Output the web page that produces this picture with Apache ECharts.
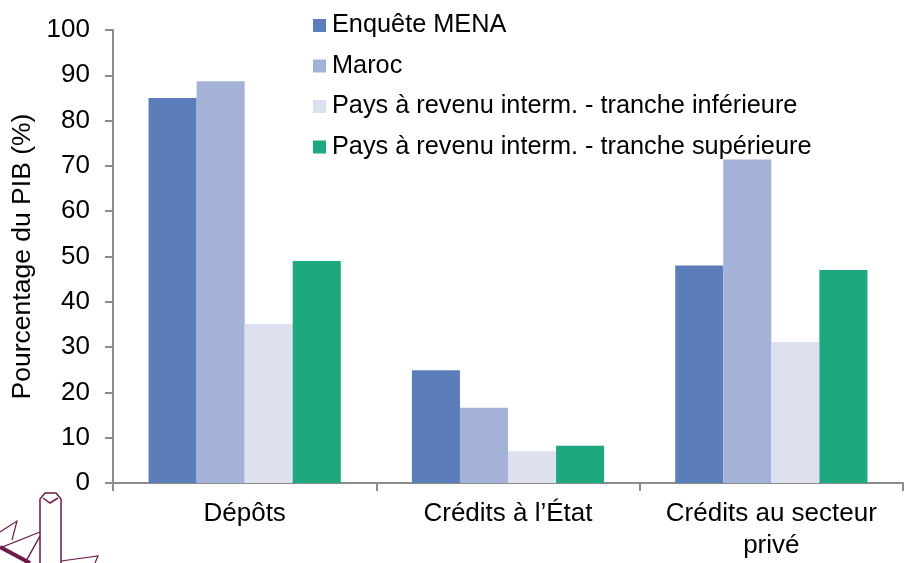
<!DOCTYPE html>
<html>
<head>
<meta charset="utf-8">
<script src="https://cdn.jsdelivr.net/npm/echarts@6/dist/echarts.min.js"></script>
<style>
html,body{margin:0;padding:0;background:#fff;}
#chart{width:904px;height:563px;}
</style>
</head>
<body>
<div id="chart"></div>
<script>
const categories = ['Dépôts', 'Crédits à l’État', 'Crédits au secteur\nprivé'];
const seriesNames = ['Enquête MENA', 'Maroc', 'Pays à revenu interm. - tranche inférieure', 'Pays à revenu interm. - tranche supérieure'];
const enqueteMena = [85, 24.9, 48];
const maroc = [88.7, 16.6, 71.4];
const trancheInf = [35.1, 7.0, 31.1];
const trancheSup = [49.0, 8.2, 47.0];
const yTicks = { min: 0, max: 100, interval: 10 };
const colors = ['#5B7DB9', '#A4B2D7', '#DCE0EF', '#1DA880'];

const font = '"Liberation Sans", Arial, sans-serif';
const chart = echarts.init(document.getElementById('chart'), null, { renderer: 'canvas' });
const dataSets = [enqueteMena, maroc, trancheInf, trancheSup];
const logoStroke = '#6b1d4a';

chart.setOption({
  animation: false,
  backgroundColor: '#ffffff',
  textStyle: { fontFamily: font },
  grid: { left: 113, right: 1, top: 30, bottom: 80, containLabel: false },
  legend: {
    orient: 'vertical',
    left: 313,
    top: 13,
    padding: 0,
    itemWidth: 13,
    itemHeight: 13,
    itemGap: 15.5,
    icon: 'rect',
    textStyle: { fontFamily: font, fontSize: 25.3, color: '#000', lineHeight: 25, padding: [0, 0, 0, 1] },
    data: seriesNames
  },
  xAxis: {
    type: 'category',
    data: categories,
    axisLine: { lineStyle: { color: '#8c8c8c', width: 2 } },
    axisTick: { show: true, length: 8, lineStyle: { color: '#8c8c8c', width: 2 } },
    axisLabel: { fontFamily: font, fontSize: 26, color: '#000', margin: 15, lineHeight: 32, interval: 0 }
  },
  yAxis: {
    type: 'value',
    min: yTicks.min,
    max: yTicks.max,
    interval: yTicks.interval,
    name: 'Pourcentage du PIB (%)',
    nameLocation: 'middle',
    nameGap: 76,
    nameRotate: 90,
    nameTextStyle: { fontFamily: font, fontSize: 26.5, color: '#000' },
    splitLine: { show: false },
    axisLine: { show: true, lineStyle: { color: '#8c8c8c', width: 2 } },
    axisTick: { show: true, length: 8, lineStyle: { color: '#8c8c8c', width: 2 } },
    axisLabel: { fontFamily: font, fontSize: 26, color: '#000', margin: 23 }
  },
  series: seriesNames.map((name, i) => ({
    name: name,
    type: 'bar',
    data: dataSets[i],
    barGap: '0%',
    barCategoryGap: '27%',
    itemStyle: { color: colors[i] }
  })),
  graphic: [
    { type: 'polyline', silent: true, shape: { points: [[40, 563], [40, 499], [45, 493], [56, 493], [61, 499], [61, 563]] }, style: { stroke: logoStroke, lineWidth: 1.5, fill: null } },
    { type: 'polyline', silent: true, shape: { points: [[43, 498], [50, 503], [58, 498]] }, style: { stroke: logoStroke, lineWidth: 1.5, fill: null } },
    { type: 'polyline', silent: true, shape: { points: [[0, 532], [17, 521], [12, 540]] }, style: { stroke: logoStroke, lineWidth: 1.2, fill: null } },
    { type: 'line', silent: true, shape: { x1: 40, y1: 532, x2: 0, y2: 548 }, style: { stroke: logoStroke, lineWidth: 1.2 } },
    { type: 'line', silent: true, shape: { x1: 0, y1: 547, x2: 30, y2: 563 }, style: { stroke: logoStroke, lineWidth: 4 } },
    { type: 'line', silent: true, shape: { x1: 40, y1: 536, x2: 25, y2: 563 }, style: { stroke: logoStroke, lineWidth: 1.5 } },
    { type: 'polyline', silent: true, shape: { points: [[61, 561], [98, 556], [95, 563]] }, style: { stroke: logoStroke, lineWidth: 1.2, fill: null } }
  ]
});
</script>
</body>
</html>
